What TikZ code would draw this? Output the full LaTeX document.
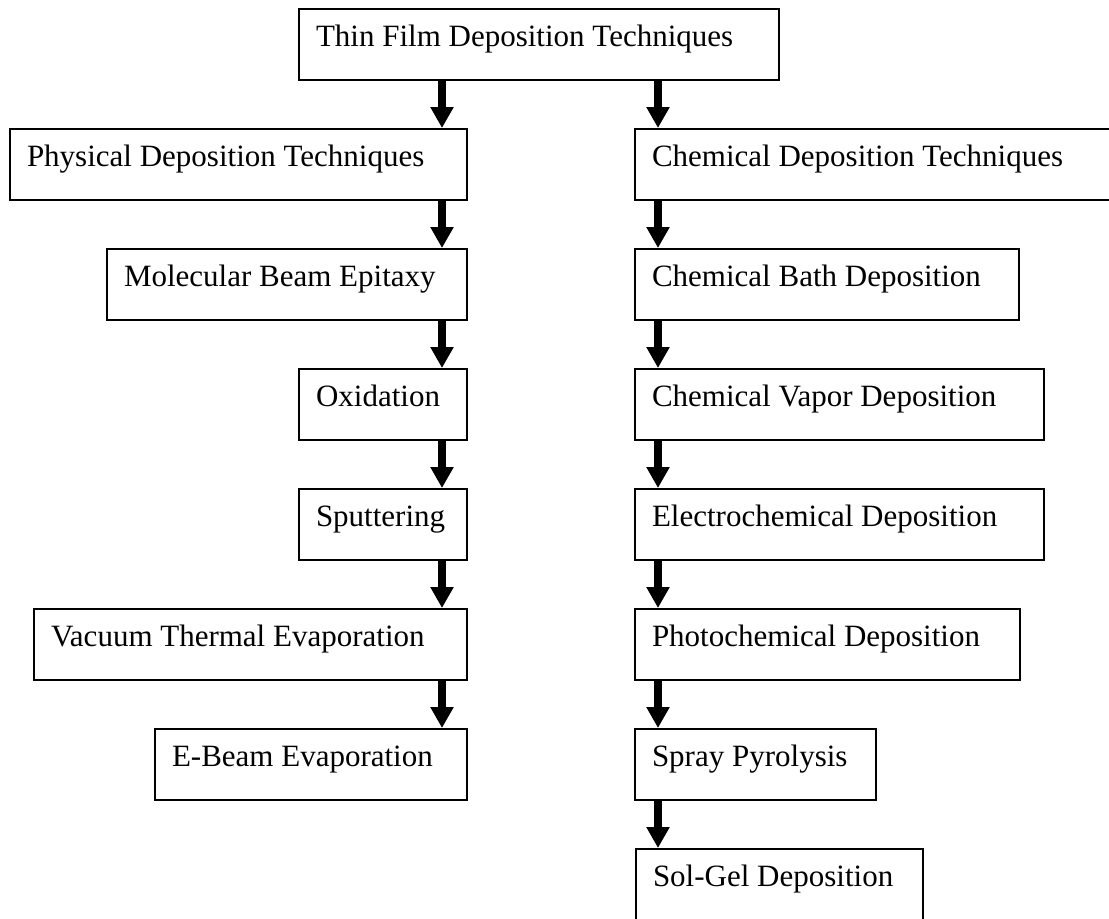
\documentclass[tikz,border=0pt]{standalone}
\usepackage{fontspec}
\setmainfont{Liberation Serif}
\usetikzlibrary{arrows.meta}
\hyphenpenalty=10000
\exhyphenpenalty=10000

\begin{document}
\begin{tikzpicture}[x=0.5pt,y=-0.5pt,
    box/.style={draw,line width=1pt,anchor=north west,align=flush left,text width=#1,
      inner xsep=8.5pt,inner ysep=0pt,text height=18.5pt,text depth=17pt,
      font=\fontsize{15.5}{18}\selectfont},
    arr/.style={-{Triangle[width=11pt,length=10.5pt]},line width=4pt}]
      \useasboundingbox (0,0) rectangle (1109,918);
      \coordinate (lx) at (442,0);
      \coordinate (rx) at (658,0);
      \node[box=223pt] (top) at (298,8) {Thin Film Deposition Techniques};
      % physical side
      \node[box=211.5pt] (phys) at (9,128) {Physical Deposition Techniques};
      \node[box=163pt] (mbe) at (106,248) {Molecular Beam Epitaxy};
      \node[box=67pt] (oxi) at (298,368) {Oxidation};
      \node[box=67pt] (sput) at (298,488) {Sputtering};
      \node[box=199.5pt] (vte) at (33,608) {Vacuum Thermal Evaporation};
      \node[box=139pt] (ebeam) at (154,728) {E-Beam Evaporation};
      % chemical side
      \node[box=222pt] (chem) at (634,128) {Chemical Deposition Techniques};
      \node[box=175pt] (cbd) at (634,248) {Chemical Bath Deposition};
      \node[box=187.5pt] (cvd) at (634,368) {Chemical Vapor Deposition};
      \node[box=187.5pt] (ecd) at (634,488) {Electrochemical Deposition};
      \node[box=175.5pt] (pcd) at (634,608) {Photochemical Deposition};
      \node[box=103.5pt] (spray) at (634,728) {Spray Pyrolysis};
      \node[box=126.5pt] (solgel) at (635,848) {Sol-Gel Deposition};
      \draw[arr] (top.south -| lx) -- (phys.north -| lx);
      \draw[arr] (top.south -| rx) -- (chem.north -| rx);
      \foreach \a/\b in {phys/mbe,mbe/oxi,oxi/sput,sput/vte,vte/ebeam}
        \draw[arr] (\a.south -| lx) -- (\b.north -| lx);
      \foreach \a/\b in {chem/cbd,cbd/cvd,cvd/ecd,ecd/pcd,pcd/spray,spray/solgel}
        \draw[arr] (\a.south -| rx) -- (\b.north -| rx);
    \end{tikzpicture}
\end{document}
